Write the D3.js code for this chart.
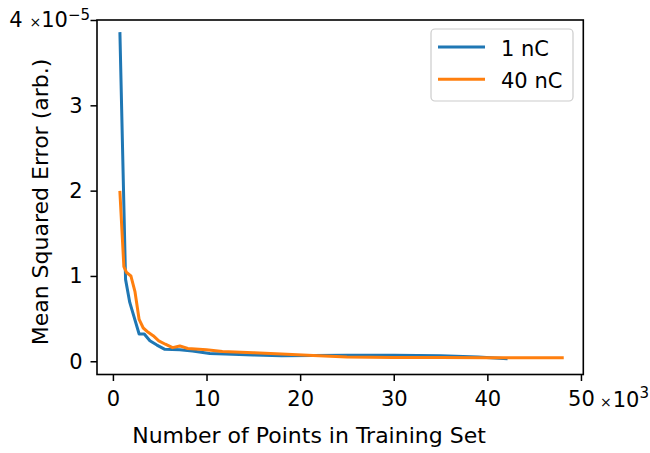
<!DOCTYPE html>
<html>
<head>
<meta charset="utf-8">
<script src="https://cdn.jsdelivr.net/npm/d3@7"></script>
<style>
  body { margin: 0; background: #fff; }
  svg { font-family: "DejaVu Sans", sans-serif; }
</style>
</head>
<body>
<svg id="chart" width="650" height="453"></svg>
<script>
// training set size, in thousands of points
const pointsLow = [0.75, 1.35, 1.8, 2.8, 3.35, 3.95, 4.7, 5.55, 7.15, 8.5, 10.35, 12, 15, 18, 21.4, 25, 30, 35, 39, 42];
// mean squared error, x1e-5
const mseLow = [3.84, 0.96, 0.69, 0.32, 0.32, 0.24, 0.19, 0.14, 0.135, 0.12, 0.09, 0.085, 0.075, 0.065, 0.068, 0.07, 0.07, 0.065, 0.05, 0.03];

const pointsHigh = [0.75, 1.17, 1.46, 1.92, 2.35, 2.8, 3.24, 3.77, 4.3, 4.9, 5.6, 6.37, 7.15, 8.0, 10, 11.7, 15, 18, 21.4, 25, 30, 35, 40, 48];
const mseHigh = [1.98, 1.11, 1.04, 1.0, 0.82, 0.49, 0.39, 0.34, 0.30, 0.24, 0.2, 0.16, 0.18, 0.15, 0.135, 0.115, 0.1, 0.085, 0.068, 0.05, 0.045, 0.045, 0.04, 0.04];

const seriesNames = ["1 nC", "40 nC"];
const xTicks = [0, 10, 20, 30, 40, 50];
const yTicks = [0, 1, 2, 3, 4];

const colors = ["#1f77b4", "#ff7f0e"];
const plotLeft = 97, plotRight = 583.3, plotTop = 20, plotBottom = 374.5;

const svg = d3.select("#chart");

const x = d3.scaleLinear().domain([-1.7, 50.25]).range([plotLeft, plotRight]);
const y = d3.scaleLinear().domain([-0.155, 4.0]).range([plotBottom, plotTop]);

const series = [
  pointsLow.map((p, i) => ({ x: p, y: mseLow[i] })),
  pointsHigh.map((p, i) => ({ x: p, y: mseHigh[i] }))
];

const line = d3.line().x(d => x(d.x)).y(d => y(d.y));

svg.selectAll("path.series")
  .data(series)
  .enter().append("path")
  .attr("class", "series")
  .attr("d", line)
  .attr("fill", "none")
  .attr("stroke", (d, i) => colors[i])
  .attr("stroke-width", 3)
  .attr("stroke-linejoin", "round")
  .attr("stroke-linecap", "square");

// axes
const xAxis = svg.append("g")
  .attr("transform", `translate(0,${plotBottom})`)
  .call(d3.axisBottom(x).tickValues(xTicks).tickFormat(d3.format("d"))
    .tickSize(6.5).tickPadding(10).tickSizeOuter(0));

const yAxis = svg.append("g")
  .attr("transform", `translate(${plotLeft},0)`)
  .call(d3.axisLeft(y).tickValues(yTicks).tickFormat(d3.format("d"))
    .tickSize(6.5).tickPadding(8).tickSizeOuter(0));

[xAxis, yAxis].forEach(g => {
  g.select(".domain").remove();
  g.selectAll(".tick line").attr("stroke", "#000").attr("stroke-width", 1.5);
  g.selectAll(".tick text")
    .attr("fill", "#000")
    .style("font-size", "21px")
    .style("font-family", "DejaVu Sans");
});

// top y tick carries the multiplier: "4 ×10^-5"
const topLabel = yAxis.selectAll(".tick").filter(d => d === 4).select("text");
topLabel.text(null).attr("x", -7);
topLabel.append("tspan").text("4 ");
topLabel.append("tspan").style("font-size", "14px").text("×");
topLabel.append("tspan").text("10");
topLabel.append("tspan").attr("dy", "-0.45em").style("font-size", "15px").text("−5");

// x multiplier
const xOff = svg.append("text").attr("x", 600).attr("y", 407).attr("fill", "#000");
xOff.append("tspan").style("font-size", "14px").text("×");
xOff.append("tspan").attr("dx", 1).style("font-size", "21px").text("10");
xOff.append("tspan").attr("dy", -9).style("font-size", "15px").text("3");

// frame
svg.append("rect")
  .attr("x", plotLeft).attr("y", plotTop)
  .attr("width", plotRight - plotLeft).attr("height", plotBottom - plotTop)
  .attr("fill", "none").attr("stroke", "#000").attr("stroke-width", 1.6);

// axis labels
svg.append("text")
  .attr("x", 309).attr("y", 443)
  .attr("text-anchor", "middle")
  .style("font-size", "22px")
  .text("Number of Points in Training Set");

svg.append("text")
  .attr("transform", "translate(48,202) rotate(-90)")
  .attr("text-anchor", "middle")
  .style("font-size", "22px")
  .text("Mean Squared Error (arb.)");

// legend
const legend = svg.append("g");
legend.append("rect")
  .attr("x", 431).attr("y", 29)
  .attr("width", 142).attr("height", 72)
  .attr("rx", 4)
  .attr("fill", "#fff").attr("fill-opacity", 0.8)
  .attr("stroke", "#cccccc").attr("stroke-width", 1.2);

seriesNames.forEach((name, i) => {
  const cy = 47 + i * 32.3;
  legend.append("line")
    .attr("x1", 438).attr("x2", 485)
    .attr("y1", cy).attr("y2", cy)
    .attr("stroke", colors[i]).attr("stroke-width", 3);
  legend.append("text")
    .attr("x", 501).attr("y", cy + 9)
    .style("font-size", "21px")
    .text(name);
});
</script>
</body>
</html>
